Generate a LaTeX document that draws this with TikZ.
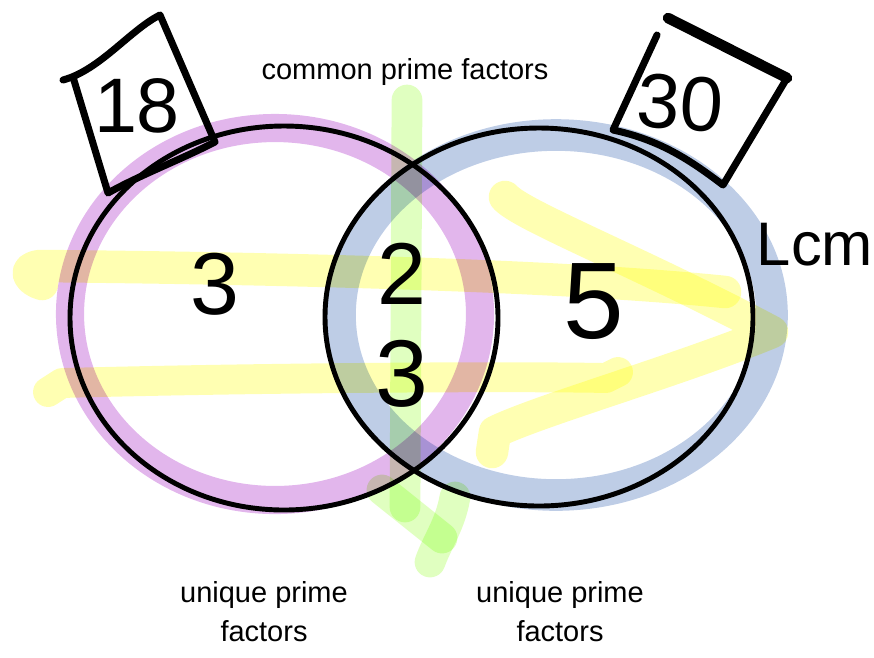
\documentclass[tikz,border=0pt]{standalone}
\usepackage{fontspec}
\setmainfont{Liberation Sans}
\usepackage{tikz}
\usetikzlibrary{positioning}
\definecolor{hlpurple}{RGB}{226,182,236}
\definecolor{hlblue}{RGB}{190,205,230}
\definecolor{hlyellow}{RGB}{255,255,178}
\definecolor{hlgreen}{RGB}{224,255,192}
\tikzset{
  ring/.style={draw=black, line width=2.8pt},
  hilite/.style={line width=#1, line cap=round, line join=round},
  hand/.style={font=\fontsize{50}{50}\selectfont, inner sep=0pt},
  caption/.style={font=\fontsize{16.5}{22.2}\selectfont, align=center, inner sep=0pt},
  tagbox/.style={line width=4pt, line cap=round, line join=round},
}

\begin{document}
\begin{tikzpicture}[x=0.02cm, y=-0.02cm]
\useasboundingbox (0,0) rectangle (874,657);
% the two sets
\draw[ring] (284,318) ellipse [x radius=214, y radius=192];
\draw[ring] (539,317) ellipse [x radius=214, y radius=189];
% highlighter strokes
\begin{scope}[blend mode=multiply]
\draw[hilite=16pt, hlpurple] (275,314) ellipse [x radius=205, y radius=186];
\draw[hilite=18pt, hlblue] (556,315) ellipse [x radius=216, y radius=180];
\draw[hilite=18.5pt, hlyellow] (42,284) .. controls (28,280) and (22,268) .. (40,266)
  .. controls (250,268) and (550,274) .. (725,292);
\draw[hilite=17pt, hlyellow] (48,392) -- (62,383) .. controls (250,378) and (500,376) .. (606,378) -- (618,372);
\draw[hilite=18.5pt, hlyellow] (505,197) .. controls (520,215) and (640,262) .. (772,332)
  .. controls (680,370) and (540,410) .. (495,432) -- (492,452);
\draw[hilite=17.5pt, hlgreen] (407,100) -- (405,507);
\draw[hilite=17.5pt, hlgreen] (382,490) -- (442,538);
\draw[hilite=17.5pt, hlgreen] (455,497) .. controls (450,525) and (438,540) .. (430,562);
\end{scope}
% labels on the boxes
\draw[tagbox] (63,80) .. controls (100,70) and (130,30) .. (160,15) -- (215,142)
  .. controls (180,160) and (140,175) .. (108,193) -- (73,77);
\draw[tagbox] (657,35) -- (613,130) .. controls (660,140) and (690,160) .. (723,185) -- (787,78);
\draw[tagbox, line width=6pt] (668,18) -- (787,78);
\node[hand, font=\fontsize{44}{44}\selectfont] (n18) at (137,106) {18};
\node[hand, font=\fontsize{44}{44}\selectfont, rotate=-4] (n30) at (680,103) {30};
% factors
\node[hand] (left3) at (215,284) {3};
\node[hand] (mid2) at (402,274) {2};
\node[hand, font=\fontsize{54}{54}\selectfont] (mid3) at (402,374) {3};
\node[hand, font=\fontsize{62}{62}\selectfont] (right5) at (594,302) {5};
\node[hand, font=\fontsize{35}{35}\selectfont] (lcm) at (815,245) {Lcm};
% captions
\node[caption] (common) at (405,72) {common prime factors};
\node[caption, anchor=north] (uniqA) at (264,581) {unique prime\\factors};
\node[caption, anchor=north] (uniqB) at (560,581) {unique prime\\factors};
\end{tikzpicture}
\end{document}
